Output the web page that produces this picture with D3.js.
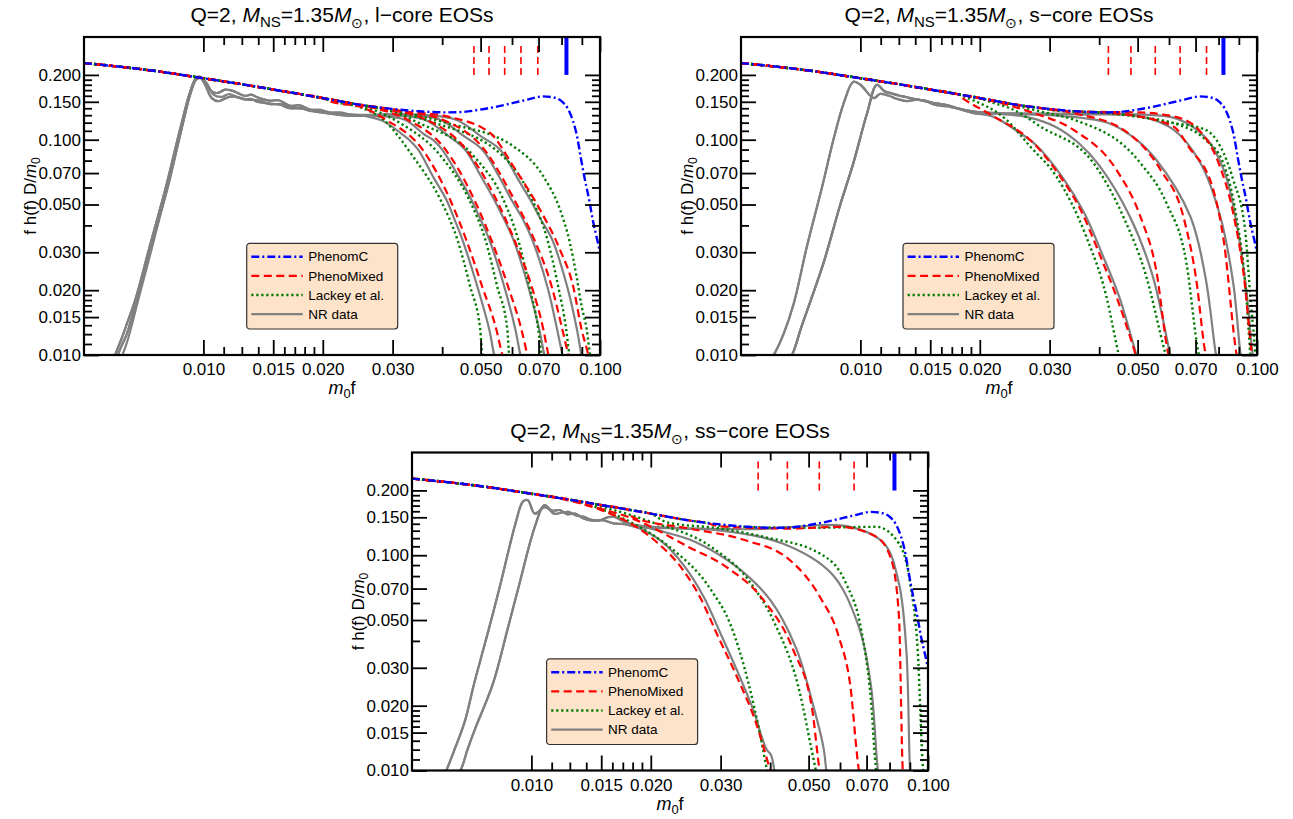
<!DOCTYPE html>
<html><head><meta charset="utf-8">
<script src="https://cdn.jsdelivr.net/npm/d3@7"></script>
<style>
body{margin:0;background:#fff;}
svg{display:block;font-family:"Liberation Sans",Arial,Helvetica,sans-serif;}
</style></head><body>
<svg id="chart" width="1293" height="819"></svg>
<script>
// ---------------- axis ticks ----------------
const xMajor = [0.01,0.015,0.02,0.03,0.05,0.07,0.1];
const xMajorLabels = ["0.010","0.015","0.020","0.030","0.050","0.070","0.100"];
const xMinor = [0.01125,0.0125,0.01375,0.016,0.017,0.018,0.019,0.04,0.06,0.08,0.09];
const yMajor = [0.01,0.015,0.02,0.03,0.05,0.07,0.1,0.15,0.2];
const yMajorLabels = ["0.010","0.015","0.020","0.030","0.050","0.070","0.100","0.150","0.200"];
const yMinor = [0.01125,0.0125,0.01375,0.016,0.017,0.018,0.019,0.04,0.06,0.08,0.09,0.11,0.12,0.13,0.14,0.16,0.17,0.18,0.19];
const xDomain = [0.005,0.1];
const yDomain = [0.01,0.3];
const legendNames = ["PhenomC","PhenoMixed","Lackey et al.","NR data"];
const titles = ["l\u2212core","s\u2212core","ss\u2212core"];

// ---------------- common model parts ----------------
const inspiral = [[0.005,0.227],[0.0075,0.209],[0.01,0.193],[0.0125,0.181],[0.015,0.171],[0.0175,0.163],[0.02,0.156],[0.0225,0.150],[0.025,0.145],[0.0275,0.1415],[0.03,0.139]];
const phenomC = [[0.035,0.1355],[0.041,0.134],[0.045,0.1345],[0.0498,0.1379],[0.055,0.1425],[0.0604,0.1482],[0.066,0.154],[0.0718,0.159],[0.0761,0.1573],[0.0801,0.1507],[0.0832,0.138],[0.0855,0.122],[0.0875,0.104],[0.0895,0.082],[0.0915,0.066],[0.094,0.052],[0.096,0.042],[0.0985,0.034],[0.1,0.03]];
const ringdownMarker = 0.0823;
const blueMarkerSpan = [0.2,0.3];
const redMarkerSpan = [0.2,0.284];

// ---------------- l-core ----------------
const lMarkers = [0.0481,0.0525,0.0575,0.0632,0.0697];
const lMixed = [
 [[0.021,0.150],[0.025,0.142],[0.0288,0.1241],[0.0357,0.0899],[0.0419,0.0526],[0.046,0.0343],[0.0505,0.0207],[0.0548,0.0131],[0.0567,0.01],[0.058,0.0085]],
 [[0.024,0.146],[0.028,0.138],[0.0326,0.1241],[0.0408,0.0899],[0.0482,0.0526],[0.0532,0.0343],[0.0587,0.0207],[0.0634,0.0131],[0.0656,0.01],[0.067,0.0085]],
 [[0.026,0.143],[0.030,0.137],[0.0364,0.1241],[0.046,0.0899],[0.0548,0.0526],[0.0608,0.0343],[0.0673,0.0207],[0.072,0.0131],[0.0741,0.01],[0.0755,0.0085]],
 [[0.028,0.139],[0.033,0.134],[0.040,0.1241],[0.0511,0.0899],[0.0608,0.0526],[0.0683,0.0343],[0.0756,0.0207],[0.0804,0.0131],[0.0832,0.01],[0.085,0.0085]],
 [[0.031,0.137],[0.0411,0.1284],[0.0528,0.1075],[0.0605,0.0751],[0.0706,0.0473],[0.0793,0.0308],[0.0856,0.0208],[0.0899,0.0131],[0.0934,0.01],[0.095,0.0085]]
];
const lLackey = [
 [[0.021,0.151],[0.025,0.141],[0.0284,0.124],[0.0338,0.0834],[0.0396,0.0526],[0.0437,0.0343],[0.0471,0.0207],[0.0499,0.0131],[0.0505,0.01],[0.052,0.0082]],
 [[0.023,0.148],[0.027,0.137],[0.0312,0.12],[0.0398,0.0834],[0.0468,0.0526],[0.0514,0.0343],[0.0551,0.0207],[0.0584,0.0131],[0.059,0.01],[0.0605,0.0082]],
 [[0.025,0.145],[0.030,0.135],[0.0348,0.12],[0.0482,0.0834],[0.0571,0.0526],[0.0622,0.0343],[0.0664,0.0207],[0.0699,0.0131],[0.0712,0.01],[0.073,0.0082]],
 [[0.027,0.141],[0.032,0.132],[0.0382,0.12],[0.0571,0.0834],[0.0675,0.0526],[0.0737,0.0343],[0.0785,0.0207],[0.0822,0.0131],[0.0837,0.01],[0.0855,0.0082]],
 [[0.030,0.137],[0.0411,0.1196],[0.0605,0.0931],[0.072,0.0675],[0.0793,0.0473],[0.084,0.0331],[0.0873,0.0231],[0.0899,0.0168],[0.0926,0.0131],[0.0944,0.01],[0.096,0.0085]]
];
const lNRLowA = [[0.0059,0.0093],[0.0061,0.0109],[0.00627,0.0124],[0.00638,0.0136],[0.00673,0.018],[0.00734,0.0325],[0.00801,0.0585],[0.00873,0.1114],[0.00926,0.1671],[0.00959,0.1941],[0.00981,0.1962],[0.0101,0.1862],[0.01052,0.1671],[0.01089,0.165],[0.01134,0.171],[0.01181,0.169],[0.01274,0.160],[0.0132,0.162],[0.01374,0.1568],[0.01472,0.1518],[0.0155,0.1525],[0.01654,0.1437],[0.0175,0.1445],[0.01858,0.138],[0.0197,0.1375],[0.02086,0.1337],[0.0222,0.1335],[0.02342,0.131]];
const lNRLowB = [[0.0060,0.0093],[0.0062,0.0109],[0.0064,0.0124],[0.0065,0.0136],[0.0068,0.018],[0.0074,0.0325],[0.0081,0.0585],[0.0088,0.1114],[0.0093,0.1671],[0.0096,0.193],[0.0098,0.195],[0.0101,0.18],[0.0105,0.156],[0.0109,0.1509],[0.0114,0.156],[0.0119,0.1591],[0.0127,0.154],[0.0132,0.1545],[0.0137,0.150],[0.0147,0.147],[0.0156,0.1455],[0.0165,0.140],[0.0175,0.1405],[0.0186,0.136],[0.0198,0.1345],[0.0209,0.132],[0.0234,0.129]];
const lNRLowC = [[0.00615,0.0093],[0.0063,0.0104],[0.00645,0.0118],[0.0066,0.0138],[0.0069,0.019],[0.0075,0.034],[0.0081,0.0600],[0.0088,0.112],[0.0093,0.166],[0.0096,0.190],[0.0099,0.193],[0.0102,0.183],[0.0106,0.162],[0.0111,0.158],[0.0116,0.163],[0.0122,0.158],[0.0129,0.1535],[0.0138,0.1525],[0.0148,0.146],[0.0158,0.1465],[0.0168,0.1405],[0.0182,0.1385],[0.0198,0.1335],[0.0215,0.1325],[0.0234,0.1295]];
const lNR = [
 [[0.0255,0.129],[0.0284,0.122],[0.0315,0.107],[0.033,0.1],[0.0348,0.0899],[0.038,0.067],[0.041,0.0526],[0.043,0.0425],[0.045,0.0343],[0.0491,0.0207],[0.0526,0.0131],[0.0541,0.01],[0.0555,0.0085]],
 [[0.027,0.129],[0.0321,0.1241],[0.036,0.106],[0.038,0.0995],[0.040,0.0899],[0.0437,0.069],[0.0474,0.0526],[0.050,0.0425],[0.0526,0.0343],[0.0574,0.0207],[0.0612,0.0131],[0.063,0.01],[0.0645,0.0085]],
 [[0.029,0.130],[0.036,0.1241],[0.041,0.106],[0.0457,0.0899],[0.050,0.068],[0.0541,0.0526],[0.057,0.0435],[0.0605,0.0343],[0.066,0.0207],[0.0703,0.0131],[0.0724,0.01],[0.074,0.0085]],
 [[0.031,0.131],[0.0394,0.1241],[0.045,0.105],[0.0505,0.0899],[0.0555,0.068],[0.0598,0.0526],[0.064,0.0425],[0.0675,0.0343],[0.0737,0.0207],[0.078,0.0131],[0.0804,0.01],[0.082,0.0085]],
 [[0.034,0.131],[0.0432,0.1241],[0.050,0.104],[0.056,0.0899],[0.062,0.066],[0.0667,0.0526],[0.071,0.0425],[0.0758,0.0343],[0.0827,0.0207],[0.0875,0.0131],[0.0897,0.01],[0.091,0.0085]]
];
const lNRLowIdx = [0,1,2,1,0];

// ---------------- s-core ----------------
const sMarkers = [0.0422,0.0481,0.0554,0.0640,0.0746];
const sMixed = [
 [[0.018,0.157],[0.0213,0.1307],[0.0273,0.0965],[0.0319,0.0675],[0.0359,0.0473],[0.0403,0.0287],[0.0442,0.0187],[0.0493,0.0102],[0.0505,0.0088]],
 [[0.022,0.15],[0.027,0.134],[0.0344,0.1113],[0.0442,0.0725],[0.0508,0.044],[0.0557,0.0248],[0.0597,0.0102],[0.061,0.0088]],
 [[0.025,0.145],[0.035,0.132],[0.046,0.1113],[0.0571,0.0725],[0.0652,0.044],[0.0703,0.0223],[0.0741,0.0102],[0.0755,0.0088]],
 [[0.03,0.138],[0.045,0.132],[0.0616,0.1153],[0.0671,0.0931],[0.0776,0.0585],[0.0826,0.0331],[0.0887,0.0102],[0.09,0.0088]],
 [[0.035,0.135],[0.05,0.134],[0.062,0.128],[0.072,0.109],[0.080,0.078],[0.087,0.046],[0.093,0.022],[0.097,0.0102],[0.098,0.009]]
];
const sLackey = [
 [[0.019,0.154],[0.0233,0.1241],[0.0268,0.093],[0.0312,0.0675],[0.0371,0.0355],[0.0417,0.0187],[0.0447,0.0102],[0.0455,0.0088]],
 [[0.021,0.151],[0.0245,0.137],[0.0284,0.1153],[0.0387,0.0779],[0.046,0.044],[0.0526,0.0231],[0.0587,0.0102],[0.060,0.0088]],
 [[0.024,0.146],[0.029,0.134],[0.0344,0.1241],[0.0508,0.0779],[0.0591,0.0508],[0.0664,0.0267],[0.0712,0.0102],[0.0725,0.0088]],
 [[0.03,0.138],[0.045,0.131],[0.0652,0.1153],[0.0741,0.1],[0.0822,0.0779],[0.0887,0.044],[0.094,0.0187],[0.0962,0.0102],[0.097,0.009]],
 [[0.03,0.138],[0.045,0.132],[0.0616,0.1196],[0.0741,0.1113],[0.0808,0.0931],[0.0871,0.0652],[0.0933,0.0382],[0.0962,0.0187],[0.099,0.0102],[0.0995,0.009]]
];
const sNRLowA = [[0.0059,0.0093],[0.0061,0.0103],[0.0064,0.0125],[0.0068,0.0175],[0.00733,0.0319],[0.0080,0.060],[0.00855,0.1],[0.0091,0.150],[0.0096,0.186],[0.0100,0.180],[0.0108,0.156],[0.0112,0.163],[0.0118,0.160],[0.0124,0.1545],[0.0131,0.151],[0.0139,0.1535],[0.0147,0.150],[0.0156,0.1445],[0.0165,0.143],[0.0178,0.1385],[0.0193,0.133]];
const sNRLowB = [[0.0066,0.0093],[0.0068,0.0105],[0.0071,0.0135],[0.0075,0.018],[0.00807,0.0267],[0.0089,0.05],[0.0096,0.0779],[0.0104,0.1331],[0.0110,0.180],[0.0115,0.168],[0.0120,0.164],[0.0125,0.1605],[0.0130,0.158],[0.0137,0.1545],[0.0145,0.152],[0.0155,0.1475],[0.0165,0.145],[0.0178,0.139],[0.0193,0.135]];
const sNR = [
 [[0.0193,0.133],[0.0216,0.128],[0.0245,0.1115],[0.0278,0.094],[0.0325,0.066],[0.0366,0.046],[0.041,0.0285],[0.045,0.0185],[0.0497,0.0100],[0.051,0.0088]],
 [[0.022,0.132],[0.026,0.128],[0.031,0.115],[0.0355,0.0965],[0.040,0.076],[0.0478,0.044],[0.0545,0.0235],[0.0603,0.0102],[0.0615,0.0088]],
 [[0.022,0.132],[0.030,0.130],[0.042,0.12],[0.049,0.102],[0.0557,0.0807],[0.0679,0.044],[0.0741,0.0231],[0.0787,0.0102],[0.080,0.0088]],
 [[0.022,0.133],[0.035,0.131],[0.0508,0.1284],[0.0616,0.1113],[0.072,0.0779],[0.0808,0.044],[0.0871,0.0216],[0.0908,0.0102],[0.092,0.0088]],
 [[0.022,0.133],[0.035,0.132],[0.05,0.131],[0.063,0.125],[0.075,0.10],[0.083,0.07],[0.089,0.04],[0.094,0.02],[0.0975,0.0102],[0.099,0.009]]
];
const sNRLowIdx = [0,1,0,1,1];

// ---------------- ss-core ----------------
const ssMarkers = [0.0373,0.0442,0.0532,0.0651];
const ssMixed = [
 [[0.012,0.182],[0.015,0.162],[0.0183,0.136],[0.0209,0.1133],[0.0238,0.0882],[0.0266,0.064],[0.0296,0.0417],[0.033,0.0272],[0.0369,0.0165],[0.0402,0.0098],[0.041,0.0088]],
 [[0.014,0.17],[0.018,0.148],[0.0249,0.1093],[0.031,0.0882],[0.0385,0.0618],[0.0458,0.0361],[0.0511,0.019],[0.0534,0.0098],[0.054,0.0088]],
 [[0.018,0.15],[0.025,0.133],[0.0345,0.1176],[0.0449,0.0948],[0.0534,0.064],[0.0596,0.0417],[0.0636,0.0253],[0.0671,0.0098],[0.068,0.0088]],
 [[0.03,0.136],[0.045,0.133],[0.0596,0.1355],[0.0741,0.1217],[0.0809,0.0948],[0.0845,0.0516],[0.0864,0.0098],[0.087,0.0088]]
];
const ssLackey = [
 [[0.0125,0.181],[0.0155,0.16],[0.0185,0.137],[0.0223,0.1093],[0.0284,0.0688],[0.0317,0.0481],[0.0353,0.0253],[0.0377,0.0148],[0.0394,0.0098],[0.040,0.0088]],
 [[0.015,0.168],[0.02,0.143],[0.0284,0.1093],[0.0353,0.0765],[0.0411,0.0481],[0.0469,0.0253],[0.0523,0.0098],[0.053,0.0088]],
 [[0.022,0.142],[0.03,0.133],[0.0385,0.1217],[0.0534,0.1018],[0.0622,0.0737],[0.0679,0.0448],[0.0717,0.0219],[0.0741,0.0098],[0.075,0.0088]],
 [[0.03,0.137],[0.05,0.134],[0.0741,0.1355],[0.0845,0.1133],[0.0902,0.0737],[0.0942,0.0361],[0.0973,0.0098],[0.098,0.0088]]
];
const ssNRLowA = [[0.0060,0.0093],[0.00617,0.0105],[0.0064,0.0125],[0.0068,0.0170],[0.00717,0.0253],[0.0078,0.045],[0.00836,0.0737],[0.00912,0.1406],[0.00953,0.178],[0.0098,0.18],[0.0102,0.156],[0.0108,0.167],[0.0113,0.161],[0.0118,0.162],[0.0123,0.155],[0.0129,0.156],[0.0135,0.1485],[0.0141,0.145],[0.0151,0.1455],[0.0161,0.1406],[0.0172,0.1395],[0.0183,0.1355]];
const ssNRLowB = [[0.0065,0.0093],[0.0067,0.0105],[0.0069,0.0125],[0.0072,0.0155],[0.0080,0.0253],[0.0087,0.045],[0.00933,0.0737],[0.0102,0.1355],[0.0108,0.171],[0.0114,0.156],[0.0119,0.1575],[0.0124,0.159],[0.0130,0.1525],[0.0135,0.151],[0.0141,0.1465],[0.0148,0.145],[0.0155,0.1495],[0.0161,0.151],[0.0172,0.1425],[0.0183,0.138]];
const ssNR = [
 [[0.0183,0.1355],[0.0213,0.116],[0.0243,0.089],[0.0272,0.064],[0.0302,0.042],[0.0336,0.027],[0.0365,0.0185],[0.038,0.0145],[0.0392,0.0125],[0.0402,0.0118],[0.0408,0.0105],[0.0412,0.0092]],
 [[0.0183,0.138],[0.021,0.13],[0.026,0.115],[0.033,0.088],[0.040,0.062],[0.0465,0.037],[0.051,0.021],[0.0545,0.0128],[0.0555,0.0098],[0.0562,0.0088]],
 [[0.0183,0.1355],[0.03,0.130],[0.043,0.1133],[0.0571,0.0822],[0.0665,0.0481],[0.0717,0.0253],[0.0749,0.0098],[0.076,0.0088]],
 [[0.0183,0.138],[0.035,0.132],[0.0636,0.1355],[0.0775,0.1133],[0.0845,0.0737],[0.0882,0.0361],[0.0902,0.0098],[0.091,0.0088]]
];
const ssNRLowIdx = [0,1,0,1];

// ---------------- layout / style ----------------
const W = 516, H = 318;
const panels = [
 {left:84, top:37, title:titles[0], mixed:lMixed, lackey:lLackey, nr:lNR, nrLow:[lNRLowA,lNRLowB,lNRLowC], nrIdx:lNRLowIdx, markers:lMarkers, legendDx:162.7},
 {left:741, top:37, title:titles[1], mixed:sMixed, lackey:sLackey, nr:sNR, nrLow:[sNRLowA,sNRLowB], nrIdx:sNRLowIdx, markers:sMarkers, legendDx:162},
 {left:412, top:452.5, title:titles[2], mixed:ssMixed, lackey:ssLackey, nr:ssNR, nrLow:[ssNRLowA,ssNRLowB], nrIdx:ssNRLowIdx, markers:ssMarkers, legendDx:134.6}
];
const st = {
 blue:{stroke:"#0000ff", w:2.4, dash:"8,3,2,3"},
 red:{stroke:"#ff0000", w:2.2, dash:"8,4.5"},
 green:{stroke:"#007a00", w:2.4, dash:"2.2,2.8"},
 gray:{stroke:"#808080", w:2.2, dash:null}
};

const svg = d3.select("#chart");
const join = (head, tail) => head.filter(d => d[0] < tail[0][0]).concat(tail);
function styled(sel, s){
  sel.attr("fill","none").attr("stroke",s.stroke).attr("stroke-width",s.w);
  if (s.dash) sel.attr("stroke-dasharray", s.dash);
  return sel;
}

panels.forEach((p, pi) => {
  const x = d3.scaleLog().domain(xDomain).range([p.left, p.left + W]);
  const y = d3.scaleLog().domain(yDomain).range([p.top + H, p.top]);
  const g = svg.append("g");
  const clipId = "clip" + pi;
  svg.append("clipPath").attr("id", clipId).append("rect")
    .attr("x", p.left).attr("y", p.top).attr("width", W).attr("height", H);
  const plot = g.append("g").attr("clip-path", `url(#${clipId})`);
  const mline = d3.line().x(d => x(d[0])).y(d => y(d[1])).curve(d3.curveMonotoneX);
  const nline = d3.line().x(d => x(d[0])).y(d => y(d[1])).curve(d3.curveCatmullRom.alpha(0.5));

  p.nr.forEach((t, i) => styled(plot.append("path").attr("d", nline(join(p.nrLow[p.nrIdx[i]], t))), st.gray));
  p.lackey.forEach(t => styled(plot.append("path").attr("d", mline(join(inspiral, t))), st.green));
  p.mixed.forEach(t => styled(plot.append("path").attr("d", mline(join(inspiral, t))), st.red));
  styled(plot.append("path").attr("d", mline(join(inspiral, phenomC))), st.blue);

  // frequency markers
  p.markers.forEach(f => {
    plot.append("line").attr("x1", x(f)).attr("x2", x(f))
      .attr("y1", y(redMarkerSpan[0])).attr("y2", y(redMarkerSpan[1]))
      .attr("stroke", "#ff0000").attr("stroke-width", 1.6).attr("stroke-dasharray", "7,4");
  });
  plot.append("line").attr("x1", x(ringdownMarker)).attr("x2", x(ringdownMarker))
    .attr("y1", y(blueMarkerSpan[0])).attr("y2", y(blueMarkerSpan[1]))
    .attr("stroke", "#0000ff").attr("stroke-width", 4);

  // axes (ticks inward on all sides)
  const axes = g.append("g");
  const add = (axis, tx, ty) => axes.append("g").attr("transform", `translate(${tx},${ty})`).call(axis);
  add(d3.axisBottom(x).tickValues(xMajor).tickFormat((d,i) => xMajorLabels[i]).tickSize(-15).tickPadding(8), 0, p.top + H);
  add(d3.axisBottom(x).tickValues(xMinor).tickFormat("").tickSize(-8), 0, p.top + H);
  add(d3.axisTop(x).tickValues(xMajor).tickFormat("").tickSize(-15), 0, p.top);
  add(d3.axisTop(x).tickValues(xMinor).tickFormat("").tickSize(-8), 0, p.top);
  add(d3.axisLeft(y).tickValues(yMajor).tickFormat((d,i) => yMajorLabels[i]).tickSize(-15).tickPadding(3), p.left, 0);
  add(d3.axisLeft(y).tickValues(yMinor).tickFormat("").tickSize(-8), p.left, 0);
  add(d3.axisRight(y).tickValues(yMajor).tickFormat("").tickSize(-15), p.left + W, 0);
  add(d3.axisRight(y).tickValues(yMinor).tickFormat("").tickSize(-8), p.left + W, 0);
  axes.selectAll(".domain").remove();
  axes.selectAll(".tick line").attr("stroke", "#000").attr("stroke-width", 1.8);
  axes.selectAll("g").attr("font-family", null).attr("font-size", null);
  axes.selectAll(".tick text").attr("fill", "#000").style("font-size", "17px");

  // frame
  g.append("rect").attr("x", p.left).attr("y", p.top).attr("width", W).attr("height", H)
    .attr("fill", "none").attr("stroke", "#000").attr("stroke-width", 2.2);

  // legend
  const lg = g.append("g").attr("transform", `translate(${p.left + p.legendDx},${p.top + 206.3})`);
  lg.append("rect").attr("width", 151).attr("height", 85.7).attr("rx", 3)
    .attr("fill", "#fde3c9").attr("stroke", "#333").attr("stroke-width", 1.2);
  const lst = [st.blue, st.red, st.green, st.gray];
  legendNames.forEach((name, i) => {
    const yy = 13.5 + i * 19.1;
    styled(lg.append("line").attr("x1", 4.6).attr("x2", 56).attr("y1", yy).attr("y2", yy), lst[i]);
    lg.append("text").attr("x", 61.5).attr("y", yy + 4.7).style("font-size", "13.5px").text(name);
  });

  // title
  const t = g.append("text").attr("x", p.left + W / 2).attr("y", p.top - 15)
    .attr("text-anchor", "middle").style("font-size", "21px");
  t.append("tspan").text("Q=2, ");
  t.append("tspan").style("font-style", "italic").text("M");
  t.append("tspan").attr("dy", 5).style("font-size", "15px").text("NS");
  t.append("tspan").attr("dy", -5).text("=1.35");
  t.append("tspan").style("font-style", "italic").text("M");
  t.append("tspan").attr("dy", 6).style("font-size", "14px").text("\u2299");
  t.append("tspan").attr("dy", -6).text(", " + p.title + " EOSs");

  // y label
  const yl = g.append("text").attr("transform", `translate(${p.left - 48},${p.top + H / 2}) rotate(-90)`)
    .attr("text-anchor", "middle").style("font-size", "17px");
  yl.append("tspan").text("f h(f) D/");
  yl.append("tspan").style("font-style", "italic").text("m");
  yl.append("tspan").attr("dy", 4).style("font-size", "12px").text("0");

  // x label
  const xl = g.append("text").attr("x", p.left + W / 2).attr("y", p.top + H + 39)
    .attr("text-anchor", "middle").style("font-size", "18px");
  xl.append("tspan").style("font-style", "italic").text("m");
  xl.append("tspan").attr("dy", 4).style("font-size", "13px").text("0");
  xl.append("tspan").attr("dy", -4).text("f");
});
</script></body></html>
